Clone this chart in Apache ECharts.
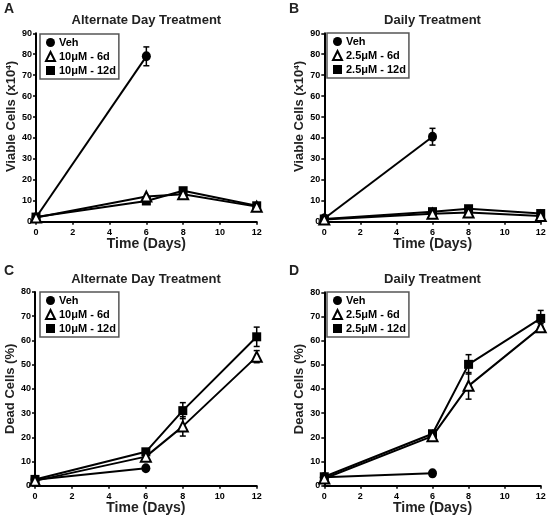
<!DOCTYPE html>
<html>
<head>
<meta charset="utf-8">
<script src="https://cdn.jsdelivr.net/npm/echarts@6/dist/echarts.min.js"></script>
<style>html,body{margin:0;padding:0;background:#fff}#c{width:549px;height:523px}</style>
</head>
<body>
<div id="c"></div>
<script>
// ---- data ----
var xTicks = [0, 2, 4, 6, 8, 10, 12];
// Panel A: viable cells, alternate day (x10^4)
var A_veh = [[0, 2], [6, 79]];
var A_6d  = [[0, 2], [6, 12], [8, 13.1], [12, 7.2]];
var A_12d = [[0, 2.2], [6, 9.9], [8, 14.8], [12, 7.6]];
var A_err = [[6, 79, 4.5], [8, 14.8, 1], [12, 7.6, 1]];
// Panel B: viable cells, daily
var B_veh = [[0, 1.5], [6, 40.6]];
var B_6d  = [[0, 1], [6, 3.8], [8, 4.4], [12, 2.7]];
var B_12d = [[0, 1.3], [6, 4.8], [8, 6.2], [12, 3.9]];
var B_err = [[6, 40.6, 4], [8, 6.2, 1]];
// Panel C: dead cells, alternate day (%)
var C_veh = [[0, 2.5], [6, 7.2]];
var C_6d  = [[0, 2], [6, 12], [8, 24.5], [12, 53.3]];
var C_12d = [[0, 2.6], [6, 14], [8, 31], [12, 61.5]];
var C_err = [[8, 31, 3.3], [8, 24.5, 4], [12, 61.5, 4], [12, 53.3, 2.5], [6, 14, 1]];
// Panel D: dead cells, daily (%)
var D_veh = [[0, 3.5], [6, 5.1]];
var D_6d  = [[0, 3], [6, 20.5], [8, 41.3], [12, 65.5]];
var D_12d = [[0, 3.7], [6, 21.5], [8, 50.2], [12, 69.2]];
var D_err = [[8, 50.2, 4], [8, 41.3, 5.5], [12, 69.2, 3.3], [12, 65.5, 1.5]];

var namesAlt = ['Veh', '10\u03bcM - 6d', '10\u03bcM - 12d'];
var namesDaily = ['Veh', '2.5\u03bcM - 6d', '2.5\u03bcM - 12d'];

var FONT = '"Liberation Sans", Arial, sans-serif';
var TICKFONT = '"Liberation Sans Narrow", "Liberation Sans", Arial, sans-serif';
var chart = echarts.init(document.getElementById('c'), null, {renderer: 'canvas'});

var grids = [
  {left: 36, top: 33.3, width: 220.7, height: 188.4},
  {left: 324.3, top: 33.3, width: 216.4, height: 188.4},
  {left: 35, top: 292, width: 221.7, height: 193.7},
  {left: 324.3, top: 292.3, width: 216.4, height: 193.4}
];
var yMax = [90, 90, 80, 80];
var yNames = [
  'Viable Cells (x10{sup|4})', 'Viable Cells (x10{sup|4})',
  'Dead Cells (%)', 'Dead Cells (%)'
];
var yPad = [[0, 0, 0, 22], [0, 0, 0, 22], [0, 0, 0, 0], [0, 0, 0, 0]];

var xAxes = [], yAxes = [];
grids.forEach(function (g, i) {
  xAxes.push({
    type: 'value', gridIndex: i, min: 0, max: 12, interval: 2,
    name: 'Time (Days)', nameLocation: 'middle', nameGap: 11,
    nameTextStyle: {fontFamily: FONT, fontWeight: 'bold', fontSize: 14, color: '#222', verticalAlign: 'top'},
    axisLine: {show: true, onZero: false, lineStyle: {color: '#000', width: 2}},
    axisTick: {show: true, length: 3, lineStyle: {color: '#000', width: 1.5}},
    axisLabel: {fontFamily: TICKFONT, fontWeight: 'bold', fontSize: 9, color: '#000', margin: 6},
    splitLine: {show: false}
  });
  yAxes.push({
    type: 'value', gridIndex: i, min: 0, max: yMax[i], interval: 10,
    name: yNames[i], nameLocation: 'middle', nameGap: 17, nameRotate: 90,
    nameTextStyle: {
      fontFamily: FONT, fontWeight: 'bold', fontSize: 13, color: '#222', padding: yPad[i],
      rich: {sup: {fontFamily: FONT, fontWeight: 'bold', fontSize: 8, color: '#222', verticalAlign: 'top', padding: [0, 0, 6, 0]}}
    },
    axisLine: {show: true, onZero: false, lineStyle: {color: '#000', width: 2}},
    axisTick: {show: true, length: 3, lineStyle: {color: '#000', width: 1.5}},
    axisLabel: {fontFamily: TICKFONT, fontWeight: 'bold', fontSize: 9, color: '#000', margin: 4},
    splitLine: {show: false}
  });
});

function lineSeries(name, data, idx, kind) {
  var s = {
    type: 'line', name: name, data: data, xAxisIndex: idx, yAxisIndex: idx,
    lineStyle: {color: '#000', width: 2}, symbolKeepAspect: true,
    animation: false, z: 3
  };
  if (kind === 'circle') {
    s.symbol = 'circle'; s.symbolSize = [9, 10];
    s.itemStyle = {color: '#000', borderColor: '#000', borderWidth: 0};
  } else if (kind === 'tri') {
    s.symbol = 'triangle'; s.symbolSize = 10;
    s.itemStyle = {color: '#fff', borderColor: '#000', borderWidth: 2};
    s.z = 5;
  } else {
    s.symbol = 'rect'; s.symbolSize = 9;
    s.itemStyle = {color: '#000', borderColor: '#000', borderWidth: 0};
    s.z = 4;
  }
  return s;
}
function errSeries(data, idx) {
  return {
    type: 'custom', xAxisIndex: idx, yAxisIndex: idx, data: data, z: 2, animation: false,
    renderItem: function (params, api) {
      var x = api.value(0), y = api.value(1), e = api.value(2);
      var t = api.coord([x, y + e]), b = api.coord([x, y - e]);
      var st = {stroke: '#000', lineWidth: 1.5};
      return {type: 'group', children: [
        {type: 'line', shape: {x1: t[0], y1: t[1], x2: b[0], y2: b[1]}, style: st},
        {type: 'line', shape: {x1: t[0] - 3, y1: t[1], x2: t[0] + 3, y2: t[1]}, style: st},
        {type: 'line', shape: {x1: b[0] - 3, y1: b[1], x2: b[0] + 3, y2: b[1]}, style: st}
      ]};
    }
  };
}

var series = [
  errSeries(A_err, 0),
  lineSeries(namesAlt[0], A_veh, 0, 'circle'),
  lineSeries(namesAlt[1], A_6d, 0, 'tri'),
  lineSeries(namesAlt[2], A_12d, 0, 'rect'),
  errSeries(B_err, 1),
  lineSeries(namesDaily[0], B_veh, 1, 'circle'),
  lineSeries(namesDaily[1], B_6d, 1, 'tri'),
  lineSeries(namesDaily[2], B_12d, 1, 'rect'),
  errSeries(C_err, 2),
  lineSeries(namesAlt[0], C_veh, 2, 'circle'),
  lineSeries(namesAlt[1], C_6d, 2, 'tri'),
  lineSeries(namesAlt[2], C_12d, 2, 'rect'),
  errSeries(D_err, 3),
  lineSeries(namesDaily[0], D_veh, 3, 'circle'),
  lineSeries(namesDaily[1], D_6d, 3, 'tri'),
  lineSeries(namesDaily[2], D_12d, 3, 'rect')
];

function legend(names, left, top) {
  return {
    left: left, top: top, orient: 'vertical', selectedMode: false,
    itemWidth: 9, itemHeight: 9, itemGap: 3, padding: [3, 3, 3, 5],
    borderColor: '#555', borderWidth: 1.5, backgroundColor: '#fff',
    textStyle: {fontFamily: FONT, fontWeight: 'bold', fontSize: 11, color: '#000', padding: [0, 0, 0, -1]},
    data: [
      {name: names[0], icon: 'circle'},
      {name: names[1], icon: 'triangle'},
      {name: names[2], icon: 'rect'}
    ]
  };
}

function panelTitle(text, cx, top) {
  return {text: text, left: cx, top: top, textAlign: 'center', padding: 0,
    textStyle: {fontFamily: FONT, fontWeight: 'bold', fontSize: 13, color: '#222'}};
}
function letter(text, left, top) {
  return {text: text, left: left, top: top, padding: 0,
    textStyle: {fontFamily: FONT, fontWeight: 'bold', fontSize: 14, color: '#222'}};
}

chart.setOption({
  animation: false,
  backgroundColor: '#fff',
  title: [
    letter('A', 4, 2), letter('B', 289, 2), letter('C', 4, 264), letter('D', 289, 264),
    panelTitle('Alternate Day Treatment', 146.4, 14),
    panelTitle('Daily Treatment', 432.5, 14),
    panelTitle('Alternate Day Treatment', 146, 273),
    panelTitle('Daily Treatment', 432.5, 273)
  ],
  legend: [
    legend(namesAlt, 40, 34), legend(namesDaily, 327, 33),
    legend(namesAlt, 40, 292), legend(namesDaily, 327, 292)
  ],
  grid: grids,
  xAxis: xAxes,
  yAxis: yAxes,
  series: series
});
</script>
</body>
</html>
